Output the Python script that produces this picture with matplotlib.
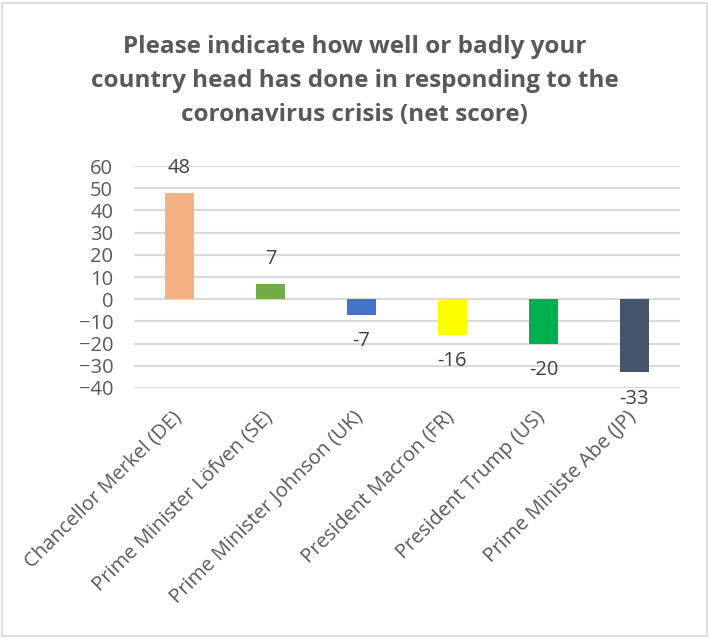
import matplotlib.pyplot as plt
import matplotlib.transforms as mtransforms
from matplotlib.patches import Rectangle

leaders = [
    "Chancellor Merkel (DE)",
    "Prime Minister Löfven (SE)",
    "Prime Minister Johnson (UK)",
    "President Macron (FR)",
    "President Trump (US)",
    "Prime Ministe Abe (JP)",
]
net_scores = [48, 7, -7, -16, -20, -33]
bar_colors = ["#F4B183", "#70AD47", "#4472C4", "#FFFF00", "#00B050", "#44546A"]
y_ticks = [60, 50, 40, 30, 20, 10, 0, -10, -20, -30, -40]

title_text = ("Please indicate how well or badly your\n"
              "country head has done in responding to the\n"
              "coronavirus crisis (net score)")

plt.rcParams["font.family"] = ["Open Sans", "DejaVu Sans"]

fig = plt.figure(figsize=(7.09, 6.39), dpi=100)
ax = fig.add_axes([0.189, 0.393, 0.770, 0.347])

x = range(len(leaders))
ax.bar(x, net_scores, width=0.32, color=bar_colors, zorder=3)

for xi, v in zip(x, net_scores):
    off = 18 if v >= 0 else -19
    ax.annotate(str(v), (xi, v), xytext=(0, off), textcoords="offset points",
                ha="center", va="center", fontsize=14.5, color="#404040", zorder=4)

ax.set_xlim(-0.5, len(leaders) - 0.5)
ax.set_ylim(-40, 60)
ax.set_yticks(y_ticks)
ax.yaxis.grid(True, color="#D9D9D9", linewidth=1.5, zorder=0)
ax.tick_params(axis="y", length=0, pad=15, labelsize=14.5, labelcolor="#595959")
ax.tick_params(axis="x", length=0, pad=14, labelsize=14.5, labelcolor="#595959")
for s in ax.spines.values():
    s.set_visible(False)

ax.set_xticks(list(x))
ax.set_xticklabels(leaders, rotation=45, ha="right", va="top", rotation_mode="anchor")
shift = mtransforms.ScaledTranslation(-6 / 72, 0, fig.dpi_scale_trans)
for lbl in ax.get_xticklabels():
    lbl.set_transform(lbl.get_transform() + shift)

fig.text(0.5, 0.873, title_text, ha="center", va="center", fontsize=17.5,
         fontweight="bold", color="#595959", linespacing=1.55)

# light frame around the whole chart area
fig.patches.append(Rectangle((0.003, 0.004), 0.994, 0.992, transform=fig.transFigure,
                             fill=False, edgecolor="#D9D9D9", linewidth=1.2))

fig.savefig("out.png", dpi=100)
